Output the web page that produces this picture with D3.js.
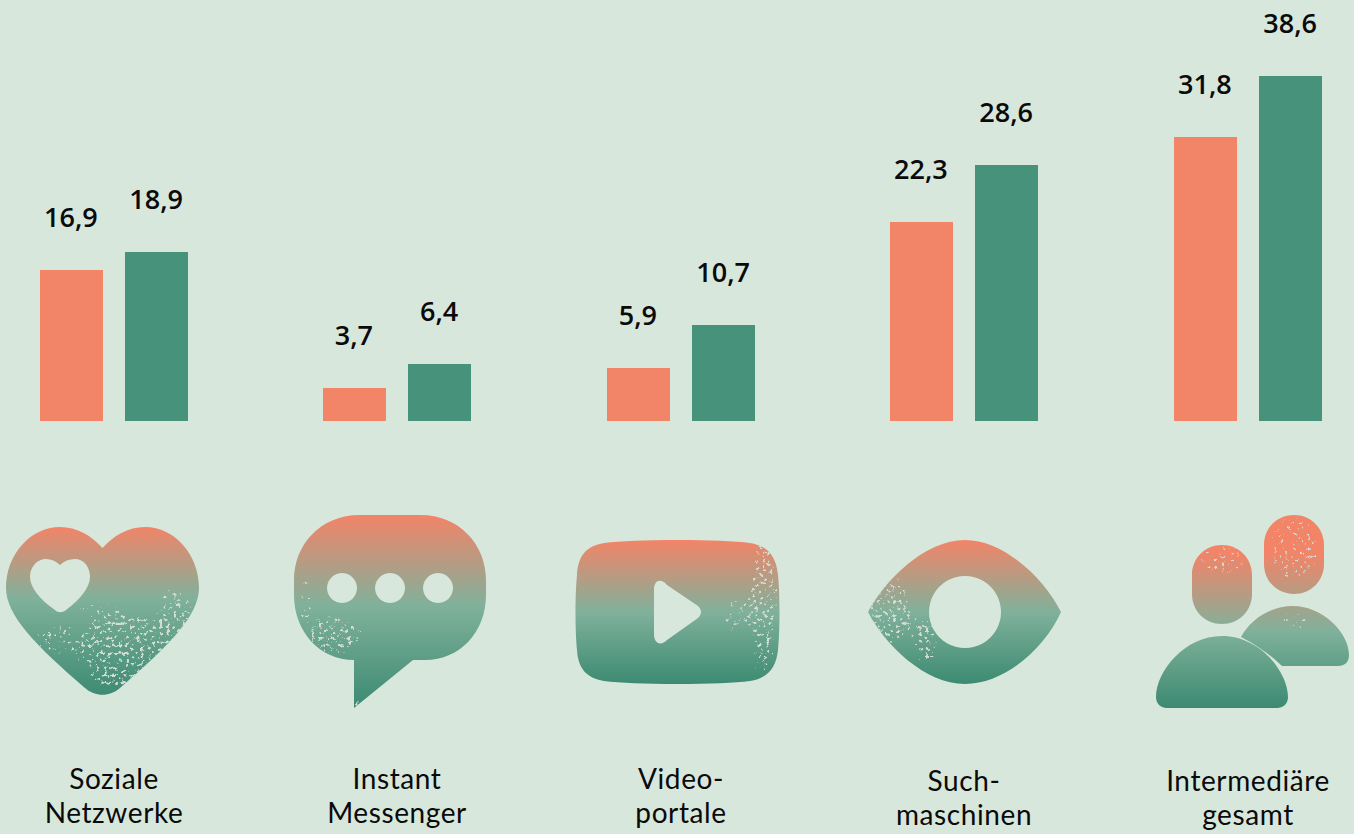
<!DOCTYPE html>
<html lang="de"><head><meta charset="utf-8">
<script src="https://cdnjs.cloudflare.com/ajax/libs/d3/7.8.5/d3.min.js"></script>
<style>html,body{margin:0;padding:0;background:#d8e7dc;overflow:hidden}svg{display:block}
text{fill:#0a0a0a}</style></head><body>
<svg id="c" width="1354" height="834"></svg>
<script>
// DATA
const categories = ["Soziale Netzwerke","Instant Messenger","Videoportale","Suchmaschinen","Intermediäre gesamt"];
const seriesNames = ["a","b"];
const seriesA = [16.9,3.7,5.9,22.3,31.8];
const seriesB = [18.9,6.4,10.7,28.6,38.6];
const labelLines = [["Soziale","Netzwerke"],["Instant","Messenger"],["Video-","portale"],["Such-","maschinen"],["Intermediäre","gesamt"]];

// decorative pictograms
const icons = [
 {d:"M102.5,548C113,536 128,527 145,527C175,527 199,555 199,588C199,615 170,645 120,688C110,697 95,697 85,688C35,645 6,615 6,588C6,555 30,527 60,527C77,527 92,536 102.5,548Z M60,565C56,561 51,559 46,559C37,559 30,567 30,577C30,587 40,600 55,610C58,613 62,613 66,610C80,600 90,587 90,577C90,567 84,559 75,559C69,559 64,561 60,565Z",
  y0:527,y1:697,mid:.42,hold:0,
  spots:[[125,650,50,40,1],[175,615,22,30,1],[60,640,32,20,.9],[100,610,30,14,.85],[115,675,30,18,1]]},
 {d:"M360,515H420C460,515 486,545 486,580V595C486,632 460,660 425,660H413L354,708V660C320,660 294,632 294,595V580C294,545 320,515 360,515Z M342,573a15,15 0 1,0 .01,0Z M390,573a15,15 0 1,0 .01,0Z M438,573a15,15 0 1,0 .01,0Z",
  y0:515,y1:708,mid:.47,hold:0,
  spots:[[335,635,30,24,1],[305,600,12,28,.9],[360,705,10,12,1],[385,615,22,8,.85]]},
 {d:"M677,540C710,540 735,541 750,543C768,546 776,556 778,575C780,595 780,630 778,650C776,668 768,678 750,681C735,683 710,684 677,684C645,684 620,683 604,681C586,678 578,668 577,650C575,630 575,595 577,575C578,556 586,546 604,543C620,541 645,540 677,540Z M654,590C654,580 661,578 667,585L698,606C702,610 702,614 698,618L667,640C661,646 654,644 654,634Z",
  y0:540,y1:684,mid:.5,hold:0,
  spots:[[763,605,18,72,1],[733,615,14,24,.92],[748,675,8,10,.9]]},
 {d:"M965,540C1005,540 1045,580 1061,612C1045,648 1005,684 965,684C925,684 885,645 868,612C885,580 925,540 965,540Z M965,576a36,36 0 1,0 .01,0Z",
  y0:540,y1:684,mid:.5,hold:0,
  spots:[[890,610,24,38,1],[925,640,16,30,1],[945,555,6,14,.95]]},
 {d:"M1222,636C1260,636 1288,672 1288,697C1288,704 1283,708 1277,708H1167C1161,708 1156,704 1156,697C1156,672 1184,636 1222,636Z M1293,606C1322,606 1349,632 1349,655C1349,662 1345,666 1338,666H1282C1280,664 1266,650 1241,637C1250,620 1270,606 1293,606Z M1222,545C1239,545 1252,558 1252,575V594C1252,611 1239,624 1222,624C1205,624 1192,611 1192,594V575C1192,558 1205,545 1222,545Z M1294,515C1311,515 1324,528 1324,545V564C1324,581 1311,594 1294,594C1277,594 1264,581 1264,564V545C1264,528 1277,515 1294,515Z",
  y0:515,y1:708,mid:.6,hold:.2,
  spots:[[1222,560,28,20,.9],[1294,550,30,40,.9],[1295,620,18,14,.95]]}
];

// scales
const W=1354,H=834,baseY=421;
const y=d3.scaleLinear().domain([0,38.6]).range([baseY,76]);
const x0=d3.scaleBand().domain(categories).range([40,1322]).paddingInner(.4779).paddingOuter(0);
const x1=d3.scaleBand().domain(seriesNames).range([0,x0.bandwidth()]).paddingInner(.2635).paddingOuter(0);
const colors=d3.scaleOrdinal().domain(seriesNames).range(["#f28568","#46927a"]);
const ORANGE="#f28468",LIGHT="#80b19b",DARK="#3c8a72";

const svg=d3.select("#c");
svg.append("rect").attr("width",W).attr("height",H).attr("fill","#d8e7dc");
const defs=svg.append("defs");

const f=defs.append("filter").attr("id","speck").attr("filterUnits","userSpaceOnUse")
  .attr("x",0).attr("y",0).attr("width",W).attr("height",H).attr("color-interpolation-filters","sRGB");
f.append("feTurbulence").attr("type","fractalNoise").attr("baseFrequency",.27).attr("numOctaves",3).attr("seed",11).attr("result","n");
f.append("feColorMatrix").attr("in","n").attr("type","matrix").attr("values","0 0 0 0 0 0 0 0 0 0 0 0 0 0 0 1 0 0 0 0").attr("result","na");
f.append("feGaussianBlur").attr("in","SourceAlpha").attr("stdDeviation",5).attr("result","b");
f.append("feComposite").attr("in","na").attr("in2","b").attr("operator","arithmetic").attr("k1",1).attr("k2",0).attr("k3",0).attr("k4",0).attr("result","m");
const ct=f.append("feComponentTransfer").attr("in","m").attr("result","t");
ct.append("feFuncA").attr("type","linear").attr("slope",10).attr("intercept",-5.8);
f.append("feFlood").attr("flood-color","#d3dcd6").attr("result","fl");
f.append("feComposite").attr("in","fl").attr("in2","t").attr("operator","in");

icons.forEach((ic,i)=>{
  const g=defs.append("linearGradient").attr("id","g"+i).attr("gradientUnits","userSpaceOnUse")
    .attr("x1",0).attr("x2",0).attr("y1",ic.y0).attr("y2",ic.y1);
  [[0,ORANGE],[ic.hold,ORANGE],[ic.mid,LIGHT],[1,DARK]].forEach(s=>
    g.append("stop").attr("offset",s[0]).attr("stop-color",s[1]));
  defs.append("clipPath").attr("id","cp"+i).append("path").attr("d",ic.d).attr("clip-rule","evenodd");
  const ig=svg.append("g").attr("class","icon");
  ig.append("path").attr("d",ic.d).attr("fill-rule","evenodd").attr("fill",`url(#g${i})`);
  const sp=ig.append("g").attr("clip-path",`url(#cp${i})`).append("g").attr("filter","url(#speck)");
  sp.selectAll("ellipse").data(ic.spots).join("ellipse")
    .attr("cx",d=>d[0]).attr("cy",d=>d[1]).attr("rx",d=>d[2]).attr("ry",d=>d[3]).attr("fill","#000").attr("fill-opacity",d=>d[4]);
});

// bars
const rows=categories.map((c,i)=>({c,i,vals:[{s:"a",v:seriesA[i]},{s:"b",v:seriesB[i]}]}));
const grp=svg.selectAll("g.grp").data(rows).join("g").attr("class","grp").attr("transform",d=>`translate(${Math.round(x0(d.c)-0.2)},0)`);
grp.selectAll("rect").data(d=>d.vals).join("rect")
  .attr("x",d=>Math.round(x1(d.s))).attr("width",Math.round(x1.bandwidth())).attr("y",d=>Math.round(y(d.v))).attr("height",d=>baseY-Math.round(y(d.v))).attr("fill",d=>colors(d.s));
grp.selectAll("text").data(d=>d.vals).join("text")
  .attr("x",d=>x1(d.s)+x1.bandwidth()/2-0.5).attr("y",d=>y(d.v)-43)
  .attr("text-anchor","middle").attr("font-family",'"Open Sans",sans-serif').attr("font-size",27).attr("font-weight",600)
  .text(d=>d3.format(".1f")(d.v).replace(".",","));

// category labels
const labelBase=[789,789,789,791,791];
const labelCx=[114,397,681,964,1248];
const lab=svg.selectAll("text.cat").data(labelLines).join("text").attr("class","cat")
  .attr("text-anchor","middle").attr("font-family",'Lato,sans-serif').attr("font-size",28).attr("letter-spacing",.6);
lab.selectAll("tspan").data((d,i)=>d.map((t,j)=>({t,j,i}))).join("tspan")
  .attr("x",d=>labelCx[d.i]).attr("y",d=>labelBase[d.i]+d.j*34).text(d=>d.t);
</script></body></html>
